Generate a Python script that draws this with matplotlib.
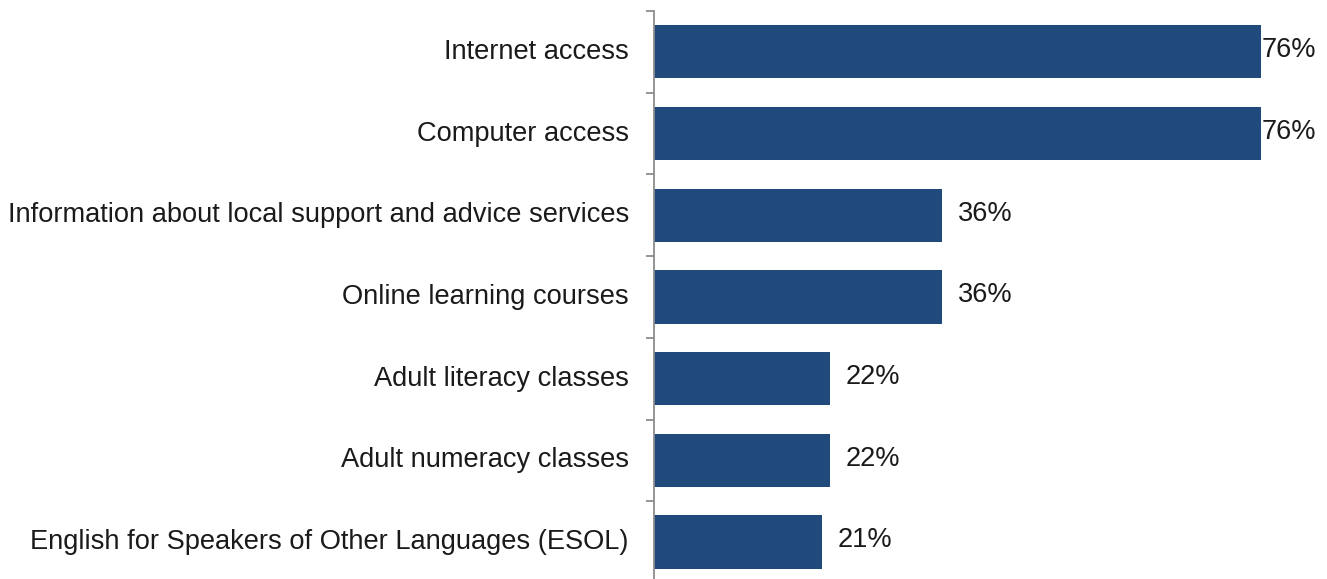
import matplotlib
matplotlib.use("Agg")
import matplotlib.pyplot as plt
import numpy as np

plt.rcParams['font.family'] = ['Liberation Sans', 'DejaVu Sans']

categories = [
    "Internet access",
    "Computer access",
    "Information about local support and advice services",
    "Online learning courses",
    "Adult literacy classes",
    "Adult numeracy classes",
    "English for Speakers of Other Languages (ESOL)",
]
values = [76, 76, 36, 36, 22, 22, 21]
value_labels = ["76%", "76%", "36%", "36%", "22%", "22%", "21%"]

BAR_COLOR = "#204A7C"
TEXT_COLOR = "#1a1a1a"
W, H, DPI = 1327, 579, 100
FS = 19.6

fig = plt.figure(figsize=(W / DPI, H / DPI), dpi=DPI)
# axes box in pixel terms: left 654, top 11, 81.7 px per row
n = len(categories)
left_px, top_px, row_px = 654, 11, 81.7
bottom_px = top_px + n * row_px
right_px = 1293
ax = fig.add_axes([left_px / W, 1 - bottom_px / H,
                   (right_px - left_px) / W, (bottom_px - top_px) / H])

y = np.arange(n)
ax.barh(y, values, height=0.65, color=BAR_COLOR, zorder=2)
ax.set_ylim(n - 0.5, -0.5)
ax.set_xlim(0, 80)

# value labels just past the bar ends, kept inside the plot area
label_cap = 76.1
for yi, v, lab in zip(y, values, value_labels):
    xpos = min(v + 2.0, label_cap)
    ax.text(xpos, yi - 0.02, lab, va='center', ha='left', fontsize=FS,
            color=TEXT_COLOR, clip_on=False)

ax.set_yticks(y)
ax.set_yticklabels(categories, fontsize=FS, color=TEXT_COLOR, va='center')
ax.tick_params(axis='y', which='major', length=0, pad=18)
ax.set_yticks(np.arange(-0.5, n + 0.5, 1), minor=True)
ax.tick_params(axis='y', which='minor', length=5.8, width=1.3,
               color='#8C8C8C', direction='out')
ax.set_xticks([])

for side in ['top', 'right', 'bottom']:
    ax.spines[side].set_visible(False)
ax.spines['left'].set_color('#8C8C8C')
ax.spines['left'].set_linewidth(1.3)

fig.savefig("out.png", dpi=DPI)
